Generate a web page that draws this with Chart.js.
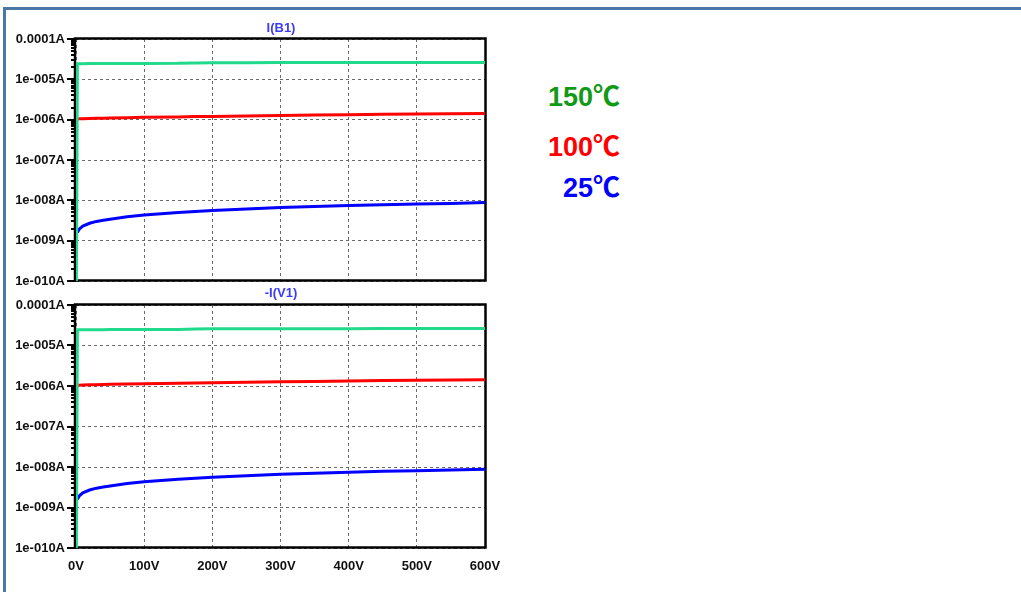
<!DOCTYPE html>
<html>
<head>
<meta charset="utf-8">
<script src="https://cdn.jsdelivr.net/npm/chart.js@4.4.0/dist/chart.umd.min.js"></script>
<style>
  body { margin: 0; background: #fff; width: 1021px; height: 592px; overflow: hidden; position: relative;
         font-family: "Liberation Sans", Arial, sans-serif; }
  #frame { position: absolute; left: 3px; top: 7px; right: -10px; bottom: -10px;
           border-top: 3px solid #4a77a6; border-left: 3px solid #4a77a6; }
  canvas { position: absolute; left: 0; }
  #topChart { top: 0; }
  #botChart { top: 290px; }
  .pane-title { position: absolute; width: 120px; left: 221px; text-align: center;
                font-weight: bold; font-size: 13px; line-height: 14px; color: #3b3bf5; }
  .temp { position: absolute; right: 401px; font-weight: bold; font-size: 27px; line-height: 27px;
          font-family: "Liberation Sans", "Noto Sans CJK JP", sans-serif; white-space: nowrap; }
</style>
</head>
<body>
<div id="frame"></div>
<canvas id="topChart" width="520" height="290"></canvas>
<canvas id="botChart" width="520" height="302"></canvas>
<div class="pane-title" style="top:21px">I(B1)</div>
<div class="pane-title" style="top:286px">-I(V1)</div>
<div class="temp" style="top:84px;color:#129a16">150℃</div>
<div class="temp" style="top:134px;color:#ff0000">100℃</div>
<div class="temp" style="top:175px;color:#0000ff">25℃</div>
<script>
// sweep voltage (V) and current (A) for the three temperatures
const voltage = [0, 2, 5, 10, 20, 30, 40, 50, 75, 100, 150, 175, 200, 250, 300, 350, 400, 450, 500, 550, 600];
const i150C = [1e-12, 2.45e-5, 2.45e-5, 2.45e-5, 2.46e-5, 2.46e-5, 2.46e-5, 2.47e-5, 2.47e-5, 2.48e-5, 2.49e-5,
               2.55e-5, 2.58e-5, 2.59e-5, 2.6e-5, 2.6e-5, 2.61e-5, 2.62e-5, 2.62e-5, 2.63e-5, 2.63e-5];
const i100C = [null, 1.04e-6, 1.05e-6, 1.06e-6, 1.07e-6, 1.08e-6, 1.09e-6, 1.10e-6, 1.12e-6, 1.14e-6, 1.17e-6,
               1.19e-6, 1.2e-6, 1.24e-6, 1.27e-6, 1.3e-6, 1.33e-6, 1.36e-6, 1.38e-6, 1.4e-6, 1.42e-6];
const i25C = [null, 1.6e-9, 1.95e-9, 2.3e-9, 2.7e-9, 3.0e-9, 3.2e-9, 3.4e-9, 3.9e-9, 4.3e-9, 5.0e-9,
              5.3e-9, 5.6e-9, 6.1e-9, 6.6e-9, 7.0e-9, 7.4e-9, 7.8e-9, 8.1e-9, 8.4e-9, 8.8e-9];

const yTickValues = [1e-10, 1e-9, 1e-8, 1e-7, 1e-6, 1e-5, 1e-4];
const yTickLabels = ['1e-010A', '1e-009A', '1e-008A', '1e-007A', '1e-006A', '1e-005A', '0.0001A'];
const xTickValues = [0, 100, 200, 300, 400, 500, 600];
const xTickLabels = ['0V', '100V', '200V', '300V', '400V', '500V', '600V'];

const tickFont = { family: '"Liberation Sans", Arial, sans-serif', size: 13, weight: 'bold' };

// box round the plot plus the major/minor tick marks on the left axis
const axisMarks = {
  id: 'axisMarks',
  beforeDatasetsDraw(chart) {
    const ctx = chart.ctx, a = chart.chartArea, ys = chart.scales.y;
    ctx.save();
    ctx.strokeStyle = '#000';
    ctx.lineWidth = 2;
    ctx.beginPath();
    for (let i = 0; i < yTickValues.length - 1; i++) {
      for (let m = 2; m < 10; m++) {
        const y = Math.round(ys.getPixelForValue(yTickValues[i] * m));
        ctx.moveTo(a.left - 5, y);
        ctx.lineTo(a.left, y);
      }
    }
    yTickValues.forEach(v => {
      const y = Math.round(ys.getPixelForValue(v));
      ctx.moveTo(a.left - 9, y);
      ctx.lineTo(a.left, y);
    });
    ctx.stroke();
    ctx.lineWidth = 2.5;
    ctx.strokeRect(a.left - 1, a.top - 0.5, a.right - a.left + 1.5, a.bottom - a.top);
    ctx.restore();
  }
};

function makeChart(id, showX, padTop, padBottom) {
  const series = [
    { data: i150C, color: '#20d98b' },
    { data: i100C, color: '#ff0000' },
    { data: i25C, color: '#0000ff' }
  ];
  return new Chart(document.getElementById(id), {
    type: 'line',
    data: {
      datasets: series.map(s => ({
        data: voltage.map((v, i) => ({ x: v, y: s.data[i] })),
        borderColor: s.color,
        borderWidth: 3,
        pointRadius: 0,
        tension: 0,
        fill: false,
        clip: 0
      }))
    },
    options: {
      responsive: false,
      animation: false,
      events: [],
      layout: { padding: { left: 0, right: 35, top: padTop, bottom: padBottom } },
      plugins: { legend: { display: false }, tooltip: { enabled: false } },
      scales: {
        x: {
          type: 'linear', min: 0, max: 600,
          afterBuildTicks: s => { s.ticks = xTickValues.map(v => ({ value: v })); },
          afterFit: s => { s.height = showX ? 30 : 0; s.paddingLeft = 0; s.paddingRight = 0; },
          grid: { color: '#6a6a6a', lineWidth: 1, drawTicks: false },
          border: { display: false, dash: [3, 3] },
          ticks: {
            display: showX, padding: 11, color: '#111', font: tickFont, maxRotation: 0,
            callback: (v, i) => xTickLabels[i]
          }
        },
        y: {
          type: 'logarithmic', min: 1e-10, max: 1e-4,
          afterBuildTicks: s => { s.ticks = yTickValues.map(v => ({ value: v })); },
          // fixed axis width, and no extra room reserved for half-labels
          afterFit: s => { s.width = 76; s.paddingTop = 0; s.paddingBottom = 0; },
          grid: { color: '#6a6a6a', lineWidth: 1, drawTicks: false },
          border: { display: false, dash: [3, 3] },
          ticks: {
            padding: 11, color: '#111', font: tickFont,
            callback: (v, i) => yTickLabels[i]
          }
        }
      }
    },
    plugins: [axisMarks]
  });
}

makeChart('topChart', false, 39, 9);
makeChart('botChart', true, 15, 14);
</script>
</body>
</html>
